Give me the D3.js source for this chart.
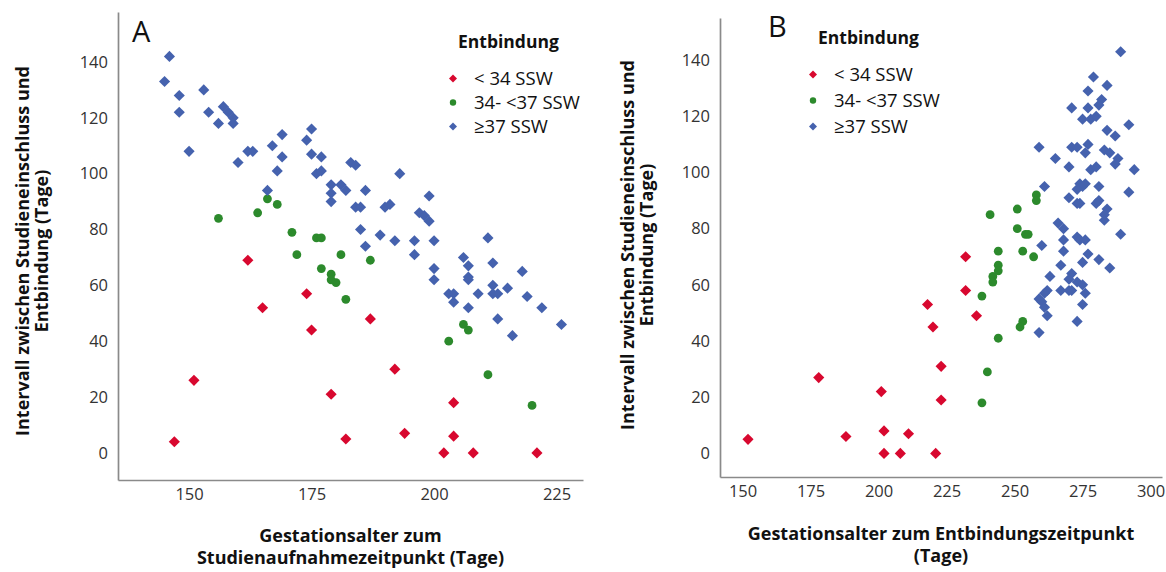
<!DOCTYPE html>
<html>
<head>
<meta charset="utf-8">
<script src="https://cdn.jsdelivr.net/npm/d3@7"></script>
<style>
  body { margin: 0; background: #fff; }
  svg { display: block; font-family: "Open Sans", sans-serif; }
</style>
</head>
<body>
<svg id="chart" width="1166" height="572"></svg>
<script>
// legend categories
const groups = ["< 34 SSW", "34- <37 SSW", "\u226537 SSW"];
const groupColors = ["#d8082f", "#2c8a2c", "#4562ae"];

// tick labels
const yTicks = [0, 20, 40, 60, 80, 100, 120, 140];
const aXTicks = [150, 175, 200, 225];
const bXTicks = [150, 175, 200, 225, 250, 275, 300];

// Panel A: gestational age at study entry vs. interval to delivery
const aEarly = [[162,69],[174,57],[165,52],[175,44],[151,26],[179,21],[147,4],[182,5],
  [187,48],[192,30],[204,18],[194,7],[204,6],[202,0],[208,0],[221,0]];
const aLate = [[156,84],[164,86],[166,91],[168,89],[171,79],[176,77],[177,77],[172,71],
  [181,71],[177,66],[179,64],[179,62],[180,61],[182,55],[187,69],[206,46],[207,44],
  [203,40],[211,28],[220,17]];
const aTerm = [[146,142],[145,133],[148,128],[148,122],[150,108],[153,130],[154,122],
  [156,118],[157,124],[158,122],[159,120],[159,118],[160,104],[162,108],[163,108],
  [166,94],[167,110],[169,114],[169,106],[168,101],[174,112],[175,116],[175,107],
  [177,106],[176,100],[177,101],[179,96],[179,93],[179,90],[181,96],[182,94],[183,104],
  [184,103],[184,88],[185,88],[186,94],[193,100],[190,88],[191,89],[199,92],[197,86],
  [198,85],[199,83],[185,80],[189,78],[192,76],[196,76],[200,76],[211,77],[186,74],
  [196,71],[200,66],[200,62],[206,70],[207,67],[212,68],[207,63],[207,62],[218,65],
  [203,57],[204,57],[204,54],[209,57],[212,60],[212,57],[213,57],[215,59],[219,56],
  [207,52],[222,52],[213,48],[216,42],[226,46]];

// Panel B: gestational age at delivery vs. interval to delivery
const bEarly = [[152,5],[178,27],[188,6],[201,22],[202,8],[202,0],[208,0],[211,7],
  [221,0],[218,53],[220,45],[223,31],[223,19],[232,70],[232,58],[236,49]];
const bLate = [[241,85],[244,72],[244,67],[244,65],[242,63],[242,61],[238,56],[244,41],
  [240,29],[238,18],[258,92],[258,90],[251,87],[251,80],[254,78],[255,78],[253,72],
  [257,70],[253,47],[252,45]];
const bTerm = [[289,143],[279,134],[284,131],[277,129],[282,126],[281,124],[271,123],
  [277,123],[275,119],[278,119],[280,120],[284,115],[287,113],[292,117],[259,109],
  [271,109],[273,109],[277,110],[276,107],[265,105],[283,108],[285,107],[288,105],
  [287,103],[270,102],[278,101],[280,102],[294,101],[261,95],[274,96],[275,95],
  [276,96],[273,94],[281,95],[292,93],[270,91],[273,89],[274,89],[280,89],[281,90],
  [284,87],[283,85],[283,83],[289,78],[266,82],[268,80],[268,76],[273,77],[274,76],
  [276,76],[260,74],[268,72],[277,71],[275,68],[281,69],[285,66],[267,67],[271,64],
  [270,62],[263,63],[273,61],[275,60],[267,58],[270,58],[271,58],[262,58],[261,57],
  [259,55],[260,54],[261,52],[276,57],[275,53],[262,49],[273,47],[259,43]];

const yTitle = ["Intervall zwischen Studieneinschluss und", "Entbindung (Tage)"];
const aXTitle = ["Gestationsalter zum", "Studienaufnahmezeitpunkt (Tage)"];
const bXTitle = ["Gestationsalter zum Entbindungszeitpunkt", "(Tage)"];

const svg = d3.select("#chart");

// diamond = square turned 45deg, like the SPSS marker
const diamond = d3.symbol().type(d3.symbolSquare);

function drawPanel(p) {
  let x = d3.scaleLinear().domain(p.xDomain).range(p.xRange);
  let y = d3.scaleLinear().domain(p.yDomain).range(p.yRange);
  let g = svg.append("g");

  let xAxis = g.append("g")
    .attr("transform", `translate(0,${p.yRange[0]})`)
    .call(d3.axisBottom(x).tickValues(p.xTicks).tickSize(0).tickPadding(8));
  let yAxis = g.append("g")
    .attr("transform", `translate(${p.xRange[0]},0)`)
    .call(d3.axisLeft(y).tickValues(yTicks).tickSize(0).tickPadding(10));

  [xAxis, yAxis].forEach(a => {
    a.select(".domain").attr("stroke", "#8a8a8a").attr("stroke-width", 1.7);
    a.selectAll("text").attr("font-size", 16.5).attr("fill", "#333")
      .attr("font-family", "Open Sans, sans-serif");
  });

  // points, one layer per group
  let series = [p.early, p.late, p.term];
  series.forEach((data, i) => {
    let layer = g.append("g");
    if (i === 1) {
      layer.selectAll("circle").data(data).enter().append("circle")
        .attr("cx", d => x(d[0]))
        .attr("cy", d => y(d[1]))
        .attr("r", 4.4)
        .attr("fill", groupColors[i]);
    } else {
      layer.selectAll("path").data(data).enter().append("path")
        .attr("d", diamond.size(62))
        .attr("transform", d => `translate(${x(d[0])},${y(d[1])}) rotate(45)`)
        .attr("fill", groupColors[i]);
    }
  });

  // panel letter
  g.append("text")
    .attr("x", p.letter[1]).attr("y", p.letter[2])
    .attr("font-size", 29).attr("fill", "#111")
    .text(p.letter[0]);

  // legend
  let lg = g.append("g").attr("transform", `translate(${p.legend[0]},${p.legend[1]})`);
  lg.append("text")
    .attr("x", 5).attr("y", 0)
    .attr("font-size", 17.5).attr("font-weight", "bold").attr("fill", "#111")
    .text("Entbindung");
  groups.forEach((name, i) => {
    let ly = 30.5 + i * p.legend[2];
    if (i === 1) {
      lg.append("circle").attr("cx", 0).attr("cy", ly).attr("r", 3.2).attr("fill", groupColors[i]);
    } else {
      lg.append("path").attr("d", diamond.size(32))
        .attr("transform", `translate(0,${ly}) rotate(45)`)
        .attr("fill", groupColors[i]);
    }
    lg.append("text")
      .attr("x", 21).attr("y", ly).attr("dy", "0.35em")
      .attr("font-size", 18.5).attr("fill", "#111")
      .text(name);
  });

  // y title, rotated
  let yt = g.append("text")
    .attr("transform", `translate(${p.yTitleX},${p.yTitleY}) rotate(-90)`)
    .attr("text-anchor", "middle")
    .attr("font-size", 18).attr("font-weight", "bold").attr("fill", "#111");
  yTitle.forEach((t, i) => {
    yt.append("tspan").attr("x", 0).attr("y", i * 18.5).text(t);
  });

  // x title, one text per line
  let xc = (p.xRange[0] + p.xRange[1]) / 2;
  p.xTitle.forEach((t, i) => {
    g.append("text")
      .attr("text-anchor", "middle")
      .attr("x", xc).attr("y", p.xTitleY + i * 22)
      .attr("font-size", 18).attr("font-weight", "bold").attr("fill", "#111")
      .text(t);
  });
}

drawPanel({
  xDomain: [135.5, 230.4], xRange: [118, 583],
  yDomain: [-9.7, 157.9], yRange: [480, 12],
  xTicks: aXTicks,
  early: aEarly, late: aLate, term: aTerm,
  letter: ["A", 132, 42],
  legend: [453, 48, 24],
  yTitleX: 29, yTitleY: 251,
  xTitle: aXTitle, xTitleY: 542
});

drawPanel({
  xDomain: [141.7, 304.2], xRange: [720, 1162],
  yDomain: [-8.4, 155], yRange: [477, 18],
  xTicks: bXTicks,
  early: bEarly, late: bLate, term: bTerm,
  letter: ["B", 768, 37],
  legend: [813, 44, 26],
  yTitleX: 634, yTitleY: 245,
  xTitle: bXTitle, xTitleY: 540
});
</script>
</body>
</html>
